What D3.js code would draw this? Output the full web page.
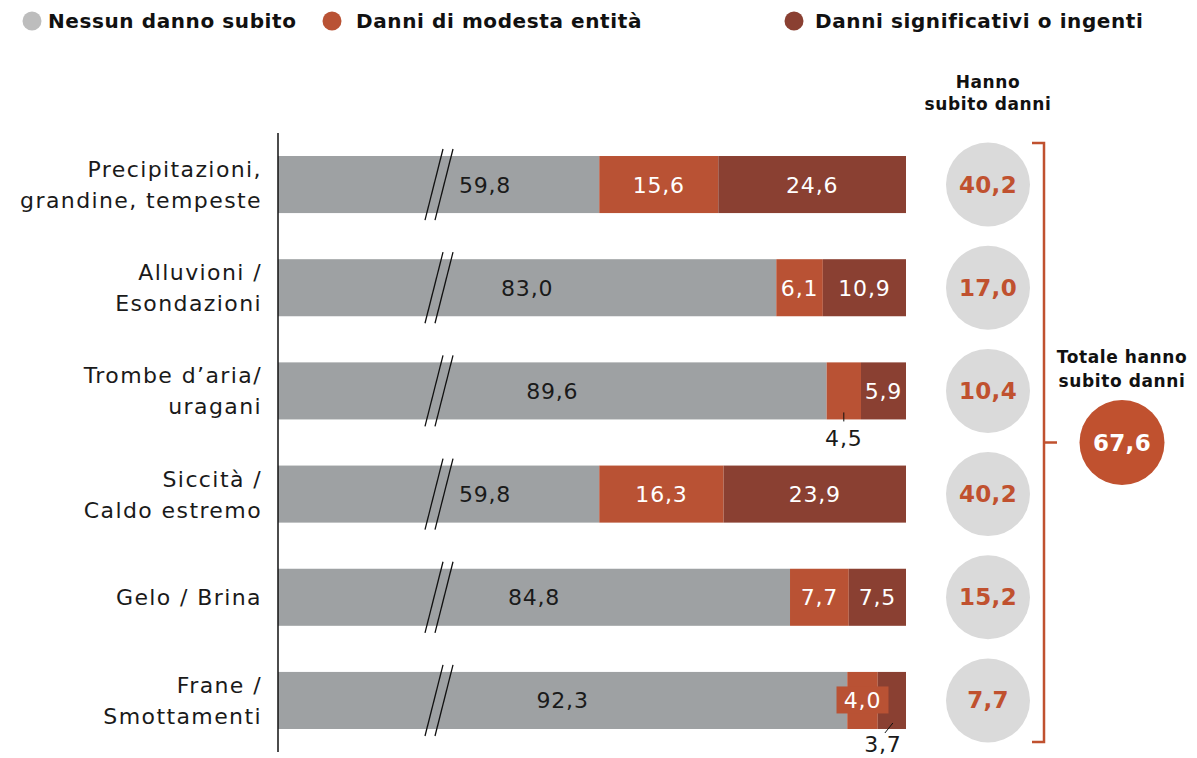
<!DOCTYPE html>
<meta charset="utf-8">
<style>
    body { margin: 0; background: #fff; }
    text { font-family: "DejaVu Sans", sans-serif; }
</style>
<svg width="1197" height="758"></svg>
<script src="https://cdn.jsdelivr.net/npm/d3@7"></script>
<script>
    var categories = [
        ["Precipitazioni,", "grandine, tempeste"],
        ["Alluvioni /", "Esondazioni"],
        ["Trombe d\u2019aria/", "uragani"],
        ["Siccit\u00e0 /", "Caldo estremo"],
        ["Gelo / Brina"],
        ["Frane /", "Smottamenti"]
    ]
    var nessun = [59.8, 83.0, 89.6, 59.8, 84.8, 92.3]
    var modesta = [15.6, 6.1, 4.5, 16.3, 7.7, 4.0]
    var ingenti = [24.6, 10.9, 5.9, 23.9, 7.5, 3.7]
    var hanno = [40.2, 17.0, 10.4, 40.2, 15.2, 7.7]
    var totale = 67.6
    var legendLabels = ["Nessun danno subito", "Danni di modesta entit\u00e0", "Danni significativi o ingenti"]
    var colors = ["#9ea1a3", "#b95234", "#8a4032"]
    var legendColors = ["#bdbdbd", "#b95234", "#8a4032"]
    var orange = "#c0512f"

    var svg = d3.select("svg")
    var it = d3.formatLocale({ decimal: ",", thousands: ".", grouping: [3], currency: ["", "\u20ac"] })
    var fmt = it.format(".1f")

    // axis is broken: grey bars start from ~17.7
    var breakVal = 17.7
    var x = d3.scaleLinear().domain([breakVal, 100]).range([278, 906])
    var idx = d3.range(categories.length)
    var y = d3.scaleBand().domain(idx).range([133, 752]).paddingInner(0.447).paddingOuter(0.223)
    var bw = y.bandwidth()

    // legend
    var legX = [[32, 48], [332, 356], [794, 815]]
    var leg = svg.append("g")
    legendLabels.forEach(function (l, i) {
        leg.append("circle").attr("cx", legX[i][0]).attr("cy", 21).attr("r", 9.5).attr("fill", legendColors[i])
        leg.append("text").attr("x", legX[i][1]).attr("y", 28).attr("font-size", 20).attr("font-weight", "bold")
            .attr("letter-spacing", 0.6).attr("fill", "#111").text(l)
    })

    var rows = idx.map(function (i) {
        var a = nessun[i], b = modesta[i], c = ingenti[i]
        return { i: i, segs: [[breakVal, a, a], [a, a + b, b], [a + b, a + b + c, c]] }
    })

    function valText(sel, xx, yy, txt, col) {
        return sel.append("text").attr("x", xx).attr("y", yy).attr("text-anchor", "middle")
            .attr("font-size", 22).attr("letter-spacing", 0.8).attr("fill", col).text(txt)
    }

    var g = svg.append("g")
    rows.forEach(function (r) {
        var y0 = y(r.i), yc = y0 + bw / 2
        r.segs.forEach(function (s, k) {
            g.append("rect").attr("x", x(s[0])).attr("y", y0)
                .attr("width", Math.min(x(s[1]), 906) - x(s[0])).attr("height", bw).attr("fill", colors[k])
        })
        // break marks
        g.append("line").attr("x1", 443).attr("y1", y0 - 7).attr("x2", 425).attr("y2", y0 + bw + 7)
            .attr("stroke", "#111").attr("stroke-width", 1.3)
        g.append("line").attr("x1", 453).attr("y1", y0 - 7).attr("x2", 435).attr("y2", y0 + bw + 7)
            .attr("stroke", "#111").attr("stroke-width", 1.3)

        // grey label
        var gm = (x(r.segs[0][0]) + x(r.segs[0][1])) / 2
        valText(g, Math.max(gm, 485), yc + 8, fmt(r.segs[0][2]), "#1a1a1a")

        // orange + dark labels
        for (var k = 1; k < 3; k++) {
            var s = r.segs[k]
            var xs = x(s[0]), xe = x(s[1]), w = xe - xs, m = (xs + xe) / 2
            if (w > 38) {
                valText(g, m, yc + 8, fmt(s[2]), "#fff")
            } else if (r.i == 5 && k == 1) {
                // label box wider than the segment
                g.append("rect").attr("x", m - 26).attr("y", yc - 14).attr("width", 52).attr("height", 27).attr("fill", colors[1])
                valText(g, m, yc + 8, fmt(s[2]), "#fff")
            } else if (r.i == 5 && k == 2) {
                g.append("line").attr("x1", m + 1).attr("y1", y0 + bw - 6).attr("x2", m - 7).attr("y2", y0 + bw + 4)
                    .attr("stroke", "#111").attr("stroke-width", 1)
                valText(g, m - 9, y0 + bw + 23, fmt(s[2]), "#1a1a1a")
            } else {
                g.append("line").attr("x1", m).attr("y1", y0 + bw - 7).attr("x2", m).attr("y2", y0 + bw + 2)
                    .attr("stroke", "#111").attr("stroke-width", 1)
                valText(g, m, y0 + bw + 27, fmt(s[2]), "#1a1a1a")
            }
        }

        // category label
        var lines = categories[r.i]
        var t = g.append("text").attr("text-anchor", "end").attr("font-size", 22).attr("letter-spacing", 1.4).attr("fill", "#1a1a1a")
        lines.forEach(function (ln, j) {
            t.append("tspan").attr("x", 262).attr("y", yc + 8 + (j - (lines.length - 1) / 2) * 31).text(ln)
        })

        // circle with damaged share
        g.append("circle").attr("cx", 988).attr("cy", yc).attr("r", 42).attr("fill", "#dadada")
        g.append("text").attr("x", 988).attr("y", yc + 8).attr("text-anchor", "middle")
            .attr("font-size", 23).attr("font-weight", "bold").attr("letter-spacing", 0.3).attr("fill", orange).text(fmt(hanno[r.i]))
    })

    // vertical axis line
    svg.append("line").attr("x1", 278).attr("x2", 278).attr("y1", 133).attr("y2", 752)
        .attr("stroke", "#111").attr("stroke-width", 1.5)

    // header
    var h = svg.append("text").attr("text-anchor", "middle").attr("font-size", 17).attr("font-weight", "bold")
        .attr("letter-spacing", 0.6).attr("fill", "#111")
    h.append("tspan").attr("x", 988).attr("y", 88).text("Hanno")
    h.append("tspan").attr("x", 988).attr("y", 110).text("subito danni")

    // bracket
    var bTop = y(0) - 13, bBot = y(5) + bw + 13, bMid = (bTop + bBot) / 2
    svg.append("path").attr("d", "M1032," + bTop + "H1044V" + bBot + "H1032M1044," + bMid + "H1057")
        .attr("fill", "none").attr("stroke", orange).attr("stroke-width", 2.5)

    var tt = svg.append("text").attr("text-anchor", "middle").attr("font-size", 17).attr("font-weight", "bold")
        .attr("letter-spacing", 0.6).attr("fill", "#111")
    tt.append("tspan").attr("x", 1122).attr("y", 363).text("Totale hanno")
    tt.append("tspan").attr("x", 1122).attr("y", 387).text("subito danni")
    svg.append("circle").attr("cx", 1122).attr("cy", bMid).attr("r", 42.5).attr("fill", orange)
    svg.append("text").attr("x", 1122).attr("y", bMid + 8).attr("text-anchor", "middle")
        .attr("font-size", 23).attr("font-weight", "bold").attr("letter-spacing", 0.3).attr("fill", "#fff").text(fmt(totale))
</script>
